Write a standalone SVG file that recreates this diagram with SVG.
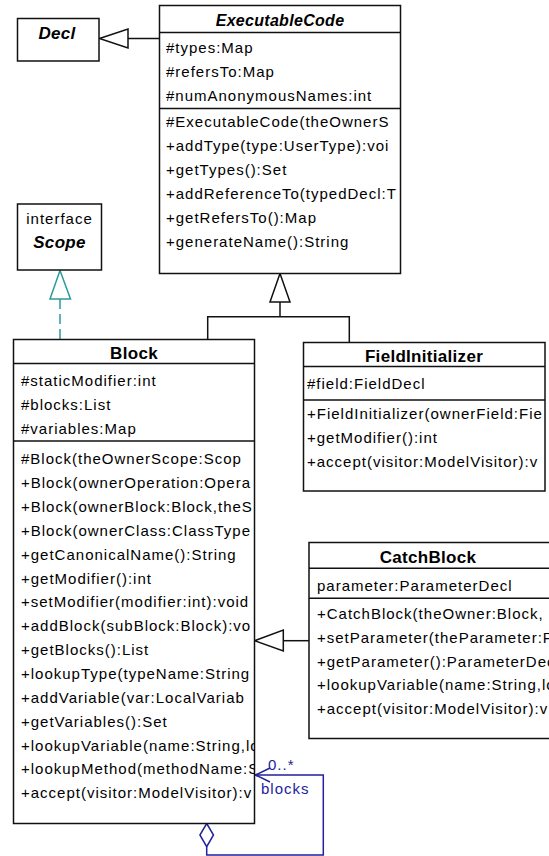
<svg xmlns="http://www.w3.org/2000/svg" width="549" height="856" viewBox="0 0 549 856">
<style>
.box{fill:#fff;stroke:#111;stroke-width:1.5}
.sep{stroke:#111;stroke-width:1.5}
.t{font-family:"Liberation Sans",Arial,sans-serif;font-size:15px;letter-spacing:1px;fill:#000}
.ttl{font-family:"Liberation Sans",Arial,sans-serif;font-size:17px;font-weight:bold;letter-spacing:0.3px;fill:#000;text-anchor:middle}
.abs{font-family:"Liberation Sans",Arial,sans-serif;font-size:17px;font-weight:bold;font-style:italic;letter-spacing:0.3px;fill:#000;text-anchor:middle}
.gen{fill:#fff;stroke:#111;stroke-width:1.5}
.ln{fill:none;stroke:#111;stroke-width:1.5}
.real{fill:none;stroke:#2e9a9a;stroke-width:1.5}
.asc{fill:none;stroke:#22229c;stroke-width:1.5}
.lbl{font-family:"Liberation Sans",Arial,sans-serif;font-size:15px;letter-spacing:1px;fill:#22229c}
</style>
<defs>
<clipPath id="cExec"><rect x="159.5" y="5.5" width="241" height="268"/></clipPath>
<clipPath id="cBlock"><rect x="13.5" y="339.5" width="241" height="484"/></clipPath>
<clipPath id="cField"><rect x="303.5" y="342.5" width="241.5" height="148.5"/></clipPath>
<clipPath id="cCatch"><rect x="309" y="542.5" width="240" height="196"/></clipPath>
</defs>
<rect width="549" height="856" fill="#fff"/>

<g id="connectors">
  <!-- ExecutableCode generalizes Decl -->
  <line class="ln" x1="128" y1="38.5" x2="159.5" y2="38.5"/>
  <polygon class="gen" points="99.5,38.5 128,29 128,48"/>
  <!-- Block realizes Scope -->
  <line class="real" x1="60" y1="299" x2="60" y2="339.5" stroke-dasharray="10,5"/>
  <polygon class="real" style="fill:#fff" points="60,270.5 50,299 70.5,299"/>
  <!-- Block, FieldInitializer generalize ExecutableCode -->
  <polyline class="ln" points="207.7,339.5 207.7,316.7 349.3,316.7 349.3,342.5"/>
  <line class="ln" x1="280" y1="302" x2="280" y2="316.7"/>
  <polygon class="gen" points="280,273.5 270,302 290,302"/>
  <!-- CatchBlock generalizes Block -->
  <line class="ln" x1="283.3" y1="640.7" x2="309" y2="640.7"/>
  <polygon class="gen" points="254.5,640.7 283.3,630 283.3,651"/>
  <!-- blocks self aggregation -->
  <path class="asc" d="M206.7,846.7 V855 H323.3 V775 H255"/>
  <polygon class="asc" style="fill:#fff" points="206.7,823.5 213.5,835 206.7,846.7 199.9,835"/>
  <polyline class="asc" points="270,768 255.5,775 270,782"/>
  <circle cx="257" cy="775" r="1.6" fill="#22229c"/>
  <text class="lbl" x="268" y="770">0..*</text>
  <text class="lbl" x="261" y="794">blocks</text>
</g>

<g id="Decl">
  <rect class="box" x="17.5" y="18.5" width="81.5" height="42.5"/>
  <text class="abs" x="57" y="38.5">Decl</text>
</g>

<g id="ExecutableCode">
  <rect class="box" x="159.5" y="5.5" width="241" height="268"/>
  <line class="sep" x1="159.5" y1="32.5" x2="400.5" y2="32.5"/>
  <line class="sep" x1="159.5" y1="108.5" x2="400.5" y2="108.5"/>
  <text class="abs" x="280" y="26" style="font-size:16px">ExecutableCode</text>
  <g clip-path="url(#cExec)">
    <text class="t" x="166" y="52.5">#types:Map</text>
    <text class="t" x="166" y="76.5">#refersTo:Map</text>
    <text class="t" x="166" y="100.5">#numAnonymousNames:int</text>
    <text class="t" x="166" y="126.7">#ExecutableCode(theOwnerS</text>
    <text class="t" x="166" y="150.7">+addType(type:UserType):voi</text>
    <text class="t" x="166" y="174.7">+getTypes():Set</text>
    <text class="t" x="166" y="198.7">+addReferenceTo(typedDecl:T</text>
    <text class="t" x="166" y="222.7">+getRefersTo():Map</text>
    <text class="t" x="166" y="246.7">+generateName():String</text>
  </g>
</g>

<g id="Scope">
  <rect class="box" x="17.5" y="204" width="84" height="66"/>
  <text class="t" x="59.5" y="224" text-anchor="middle">interface</text>
  <text class="abs" x="59.5" y="248">Scope</text>
</g>

<g id="Block">
  <rect class="box" x="13.5" y="339.5" width="241" height="484"/>
  <line class="sep" x1="13.5" y1="363.5" x2="254.5" y2="363.5"/>
  <line class="sep" x1="13.5" y1="441" x2="254.5" y2="441"/>
  <text class="ttl" x="134" y="359">Block</text>
  <g clip-path="url(#cBlock)">
    <text class="t" x="21" y="386">#staticModifier:int</text>
    <text class="t" x="21" y="410">#blocks:List</text>
    <text class="t" x="21" y="433.7">#variables:Map</text>
    <text class="t" x="21" y="464.3">#Block(theOwnerScope:Scop</text>
    <text class="t" x="21" y="488.2">+Block(ownerOperation:Opera</text>
    <text class="t" x="21" y="512">+Block(ownerBlock:Block,theS</text>
    <text class="t" x="21" y="535.9">+Block(ownerClass:ClassType</text>
    <text class="t" x="21" y="559.7">+getCanonicalName():String</text>
    <text class="t" x="21" y="583.6">+getModifier():int</text>
    <text class="t" x="21" y="607.4">+setModifier(modifier:int):void</text>
    <text class="t" x="21" y="631.3">+addBlock(subBlock:Block):vo</text>
    <text class="t" x="21" y="655.1">+getBlocks():List</text>
    <text class="t" x="21" y="679">+lookupType(typeName:String</text>
    <text class="t" x="21" y="702.8">+addVariable(var:LocalVariab</text>
    <text class="t" x="21" y="726.7">+getVariables():Set</text>
    <text class="t" x="21" y="750.5">+lookupVariable(name:String,lo</text>
    <text class="t" x="21" y="774.4">+lookupMethod(methodName:S</text>
    <text class="t" x="21" y="798.2">+accept(visitor:ModelVisitor):v</text>
  </g>
</g>

<g id="FieldInitializer">
  <rect class="box" x="303.5" y="342.5" width="241.5" height="148.5"/>
  <line class="sep" x1="303.5" y1="366.5" x2="545" y2="366.5"/>
  <line class="sep" x1="303.5" y1="400" x2="545" y2="400"/>
  <text class="ttl" x="424" y="362">FieldInitializer</text>
  <g clip-path="url(#cField)">
    <text class="t" x="307" y="388.5">#field:FieldDecl</text>
    <text class="t" x="307" y="419">+FieldInitializer(ownerField:Fie</text>
    <text class="t" x="307" y="443">+getModifier():int</text>
    <text class="t" x="307" y="467">+accept(visitor:ModelVisitor):v</text>
  </g>
</g>

<g id="CatchBlock">
  <rect class="box" x="309" y="542.5" width="242" height="196"/>
  <line class="sep" x1="309" y1="568.3" x2="551" y2="568.3"/>
  <line class="sep" x1="309" y1="598.3" x2="551" y2="598.3"/>
  <text class="ttl" x="428" y="562.5">CatchBlock</text>
  <g clip-path="url(#cCatch)">
    <text class="t" x="317" y="591">parameter:ParameterDecl</text>
    <text class="t" x="317" y="619.3">+CatchBlock(theOwner:Block,</text>
    <text class="t" x="317" y="642.7">+setParameter(theParameter:P</text>
    <text class="t" x="317" y="666.5">+getParameter():ParameterDec</text>
    <text class="t" x="317" y="690">+lookupVariable(name:String,lo</text>
    <text class="t" x="317" y="713.5">+accept(visitor:ModelVisitor):v</text>
  </g>
</g>
</svg>
